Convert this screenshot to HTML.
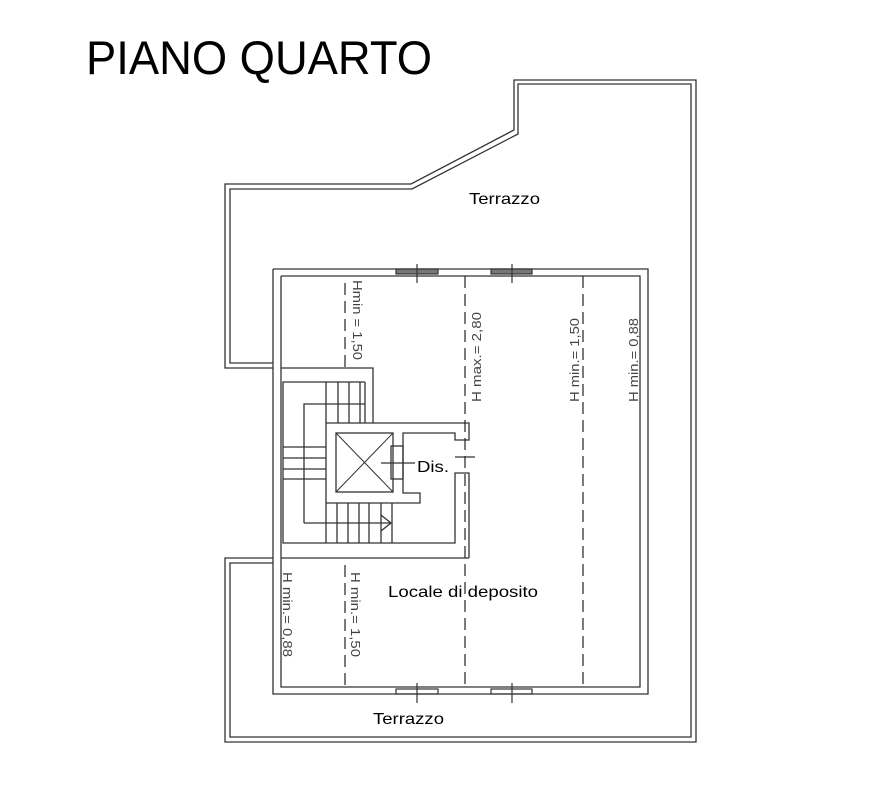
<!DOCTYPE html>
<html><head><meta charset="utf-8"><style>
html,body{margin:0;padding:0;background:#fff;}
svg{display:block;}
text{font-family:"Liberation Sans",Arial,sans-serif;}
</style></head><body>
<svg width="894" height="806" viewBox="0 0 894 806" xmlns="http://www.w3.org/2000/svg">
<rect width="894" height="806" fill="#fff"/>
<text x="86" y="74" font-size="47" fill="#000" textLength="346" lengthAdjust="spacingAndGlyphs">PIANO QUARTO</text>
<g fill="none" stroke="#333" stroke-width="1.3">
<polyline points="273,368 225,368 225,184 411,184 514,130 514,80 696,80 696,742 225,742 225,558 273,558"/>
<polyline points="273,363 230,363 230,189 412,189 518,134 518,84 691,84 691,737 230,737 230,563 273,563"/>
<polyline points="273,269 648,269 648,694 273,694 273,269"/>
<polyline points="281,276 640,276 640,687 281,687 281,276"/>
<polyline points="281,368 373,368 373,423"/>
<polyline points="281,558 469,558"/>
<polyline points="365,382 283,382 283,543 455,543 455,473 469,473 469,558"/>
<polyline points="304,523 304,404 365,404"/>
<polyline points="304,523 391,523"/>
<polyline points="381,515 391,523 381,531"/>
<g>
<line x1="326" y1="382" x2="326" y2="423"/><line x1="338" y1="382" x2="338" y2="423"/>
<line x1="349" y1="382" x2="349" y2="423"/><line x1="360" y1="382" x2="360" y2="423"/>
<line x1="365" y1="382" x2="365" y2="423"/>
<line x1="283" y1="447" x2="326" y2="447"/><line x1="283" y1="458" x2="326" y2="458"/>
<line x1="283" y1="469" x2="326" y2="469"/><line x1="283" y1="479" x2="326" y2="479"/>
<line x1="326" y1="503" x2="326" y2="543"/><line x1="337" y1="503" x2="337" y2="543"/>
<line x1="348" y1="503" x2="348" y2="543"/><line x1="359" y1="503" x2="359" y2="543"/>
<line x1="369" y1="503" x2="369" y2="543"/><line x1="381" y1="503" x2="381" y2="543"/>
<line x1="392" y1="503" x2="392" y2="543"/>
</g>
<polyline points="326,503 326,423 469,423 469,440 455,440 455,433 403,433 403,493 420,493 420,503 326,503"/>
<rect x="336" y="433" width="57" height="59"/>
<line x1="336" y1="433" x2="393" y2="492" stroke-width="1"/>
<line x1="393" y1="433" x2="336" y2="492" stroke-width="1"/>
<rect x="391" y="446" width="12" height="33"/>
<line x1="381" y1="463" x2="415" y2="463"/>
<line x1="455" y1="457" x2="475" y2="457"/>
</g>
<g stroke="#333" stroke-width="1.2">
<rect x="396" y="269" width="42" height="5" fill="#777"/>
<rect x="491" y="269" width="41" height="5" fill="#777"/>
<line x1="417" y1="264" x2="417" y2="283"/><line x1="512" y1="264" x2="512" y2="283"/>
<rect x="396" y="689" width="42" height="5" fill="none"/>
<rect x="491" y="689" width="41" height="5" fill="none"/>
<line x1="417" y1="683" x2="417" y2="703"/><line x1="512" y1="683" x2="512" y2="703"/>
</g>
<g stroke="#222" stroke-width="1.2" stroke-dasharray="12,6">
<line x1="345" y1="283" x2="345" y2="368"/>
<line x1="465" y1="276" x2="465" y2="687"/>
<line x1="583" y1="276" x2="583" y2="687"/>
<line x1="345" y1="565" x2="345" y2="687"/>
</g>
<g font-size="16" fill="#000">
<text x="469" y="204" textLength="71" lengthAdjust="spacingAndGlyphs">Terrazzo</text>
<text x="373" y="724" textLength="71" lengthAdjust="spacingAndGlyphs">Terrazzo</text>
<text x="388" y="597" textLength="150" lengthAdjust="spacingAndGlyphs">Locale di deposito</text>
<text x="417" y="472" textLength="32" lengthAdjust="spacingAndGlyphs">Dis.</text>
</g>
<g font-size="13" fill="#444">
<text transform="translate(353,280) rotate(90)" textLength="80" lengthAdjust="spacingAndGlyphs">Hmin = 1,50</text>
<text transform="translate(283,572) rotate(90)" textLength="85" lengthAdjust="spacingAndGlyphs">H min.= 0,88</text>
<text transform="translate(351,572) rotate(90)" textLength="85" lengthAdjust="spacingAndGlyphs">H min.= 1,50</text>
<text transform="translate(481,402) rotate(-90)" textLength="90" lengthAdjust="spacingAndGlyphs">H max.= 2,80</text>
<text transform="translate(579,402) rotate(-90)" textLength="84" lengthAdjust="spacingAndGlyphs">H min.= 1,50</text>
<text transform="translate(638,402) rotate(-90)" textLength="84" lengthAdjust="spacingAndGlyphs">H min.= 0,88</text>
</g>
</svg>
</body></html>
